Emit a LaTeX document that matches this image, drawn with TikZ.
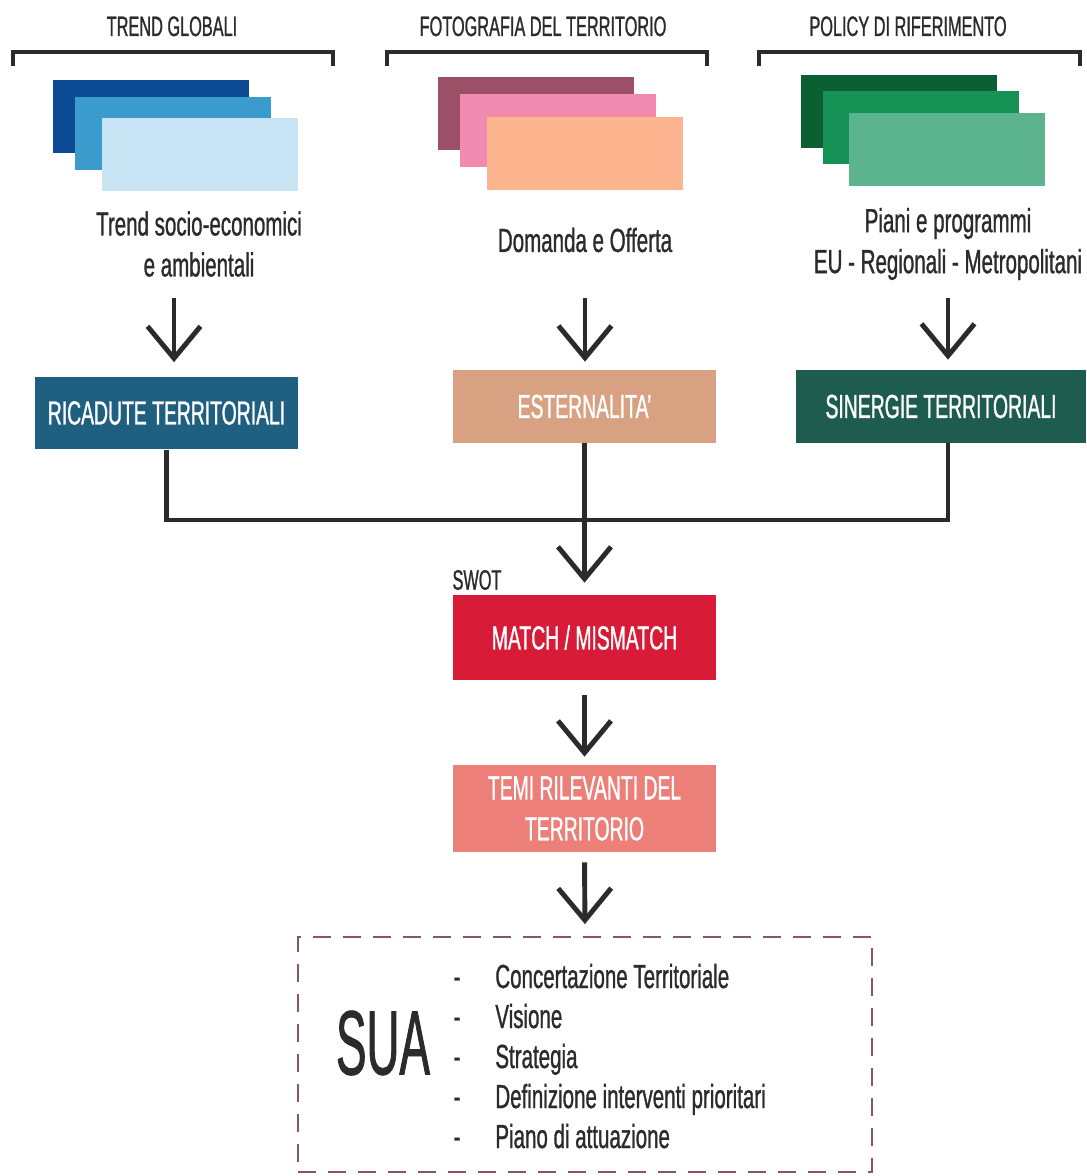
\documentclass[tikz,border=0pt]{standalone}
\usepackage{fontspec}
\setmainfont[FakeStretch=0.58, FakeBold=0.9]{Liberation Sans}
\newfontfamily\suafont[FakeStretch=0.5, FakeBold=0.9]{Liberation Sans}
\newfontfamily\prosefont[FakeStretch=0.615, FakeBold=0.9]{Liberation Sans}
\usepackage{tikz}
\usetikzlibrary{arrows.meta, calc, positioning}

\definecolor{inkgray}{HTML}{2B2B2B}
\definecolor{blueA}{HTML}{0C4A93}
\definecolor{blueB}{HTML}{3B9BCC}
\definecolor{blueC}{HTML}{C8E4F4}
\definecolor{roseA}{HTML}{9B5067}
\definecolor{roseB}{HTML}{F08BAF}
\definecolor{roseC}{HTML}{FDB590}
\definecolor{greenA}{HTML}{0B5F33}
\definecolor{greenB}{HTML}{169257}
\definecolor{greenC}{HTML}{5CB48F}
\definecolor{ricaduteCol}{HTML}{1F5F80}
\definecolor{esternCol}{HTML}{D8A282}
\definecolor{sinergieCol}{HTML}{1E5C50}
\definecolor{matchCol}{HTML}{D81B36}
\definecolor{temiCol}{HTML}{EC8078}
\definecolor{frameCol}{HTML}{8A5560}

\begin{document}
\begin{tikzpicture}[x=0.02cm, y=-0.02cm,
	header/.style={font=\fontsize{16}{19}\selectfont, text=inkgray, anchor=base},
	desc/.style={font=\prosefont\fontsize{19}{23.3}\selectfont, text=inkgray, align=center},
	stackbox/.style={minimum width=3.92cm, minimum height=1.46cm, inner sep=0pt, anchor=north west},
	stepbox/.style={font=\fontsize{19}{23.3}\selectfont, text=white, align=center, inner sep=0pt, minimum width=5.26cm, minimum height=1.46cm},
	bracket/.style={line width=1.8pt, draw=inkgray},
	flowline/.style={line width=2.8pt, draw=inkgray},
	flowarrow/.style={flowline, -{Straight Barb[length=0.64cm, width=1.06cm]}},
	suaframe/.style={draw=frameCol, line width=1.1pt, dash pattern=on 0.36cm off 0.24cm, minimum width=11.48cm, minimum height=4.7cm, inner sep=0pt},
	listitem/.style={font=\prosefont\fontsize{19}{23.3}\selectfont, text=inkgray, anchor=base west, inner sep=0pt}
	]
	\useasboundingbox (0,0) rectangle (1086,1176);
	
	% Column headers and brackets
	\node[header] (hTrend) at (172,36) {TREND GLOBALI};
	\node[header] (hFoto) at (543,36) {FOTOGRAFIA DEL TERRITORIO};
	\node[header] (hPolicy) at (908,36) {POLICY DI RIFERIMENTO};
	\foreach \l/\r in {13/333, 387/707, 759/1080} {
		\draw[bracket] (\l,66) -- (\l,52) -- (\r,52) -- (\r,66);
	}
	
	% Stacked sheets
	\foreach \n/\x/\y/\c in {tA/53/80/blueA, tB/75/97/blueB, tC/102/118/blueC,
		fA/438/77/roseA, fB/460/94/roseB, fC/487/117/roseC,
		pA/801/75/greenA, pB/823/91/greenB, pC/849/113/greenC} {
		\node[stackbox, fill=\c] (\n) at (\x,\y) {};
	}
	
	% Descriptions
	\node[desc] (dTrend) at (199,244) {Trend socio-economici\\e ambientali};
	\node[desc] (dFoto) at (585,240) {Domanda e Offerta};
	\node[desc] (dPolicy) at (948,244) {Piani e programmi\\EU - Regionali - Metropolitani};
	
	% First row of boxes
	\node[stepbox, fill=ricaduteCol] (ricadute) at (166.5,413) {RICADUTE TERRITORIALI};
	\node[stepbox, fill=esternCol] (esternalita) at (584.5,406.5) {ESTERNALITA'};
	\node[stepbox, fill=sinergieCol, minimum width=5.8cm] (sinergie) at (941,406.5) {SINERGIE TERRITORIALI};
	
	% Arrows into the boxes
	\coordinate (aTrend) at (174,298);
	\coordinate (aFoto) at (585,298);
	\coordinate (aPolicy) at (948,298);
	\draw[flowarrow, shorten >=0.28cm] (aTrend) -- (aTrend |- ricadute.north);
	\draw[flowarrow, shorten >=0.16cm] (aFoto) -- (aFoto |- esternalita.north);
	\draw[flowarrow, shorten >=0.2cm] (aPolicy) -- (aPolicy |- sinergie.north);
	
	% Merge into SWOT
	\node[stepbox, fill=matchCol, minimum height=1.7cm] (match) at (584.5,637.5) {MATCH / MISMATCH};
	\node[header, anchor=center] (swot) at (477,580) {SWOT};
	\coordinate (join) at (585,520);
	\draw[flowline] (ricadute.south) |- (join);
	\draw[flowline] ([xshift=0.14cm]sinergie.south) |- (join);
	\draw[flowarrow, shorten >=0.24cm] (esternalita.south) -- (match.north);
	
	% Relevant themes
	\node[stepbox, fill=temiCol, minimum height=1.74cm] (temi) at (584.5,808.5) {TEMI RILEVANTI DEL\\TERRITORIO};
	\draw[flowarrow, shorten <=0.3cm, shorten >=0.16cm] (match.south) -- (temi.north);
	
	% SUA frame
	\node[suaframe] (sua) at (585,1054.5) {};
	\draw[flowarrow, shorten <=0.2cm, shorten >=0.24cm] (temi.south) -- (sua.north);
	\node[font=\suafont\fontsize{52}{60}\selectfont, text=inkgray] (suaTitle) at (383,1043) {SUA};
	\foreach \i/\t in {1/Concertazione Territoriale, 2/Visione, 3/Strategia, 4/Definizione interventi prioritari, 5/Piano di attuazione} {
		\node[listitem, anchor=base] (dash\i) at (457,948+40*\i) {-};
		\node[listitem] (item\i) at (495,948+40*\i) {\t};
	}
\end{tikzpicture}
\end{document}
